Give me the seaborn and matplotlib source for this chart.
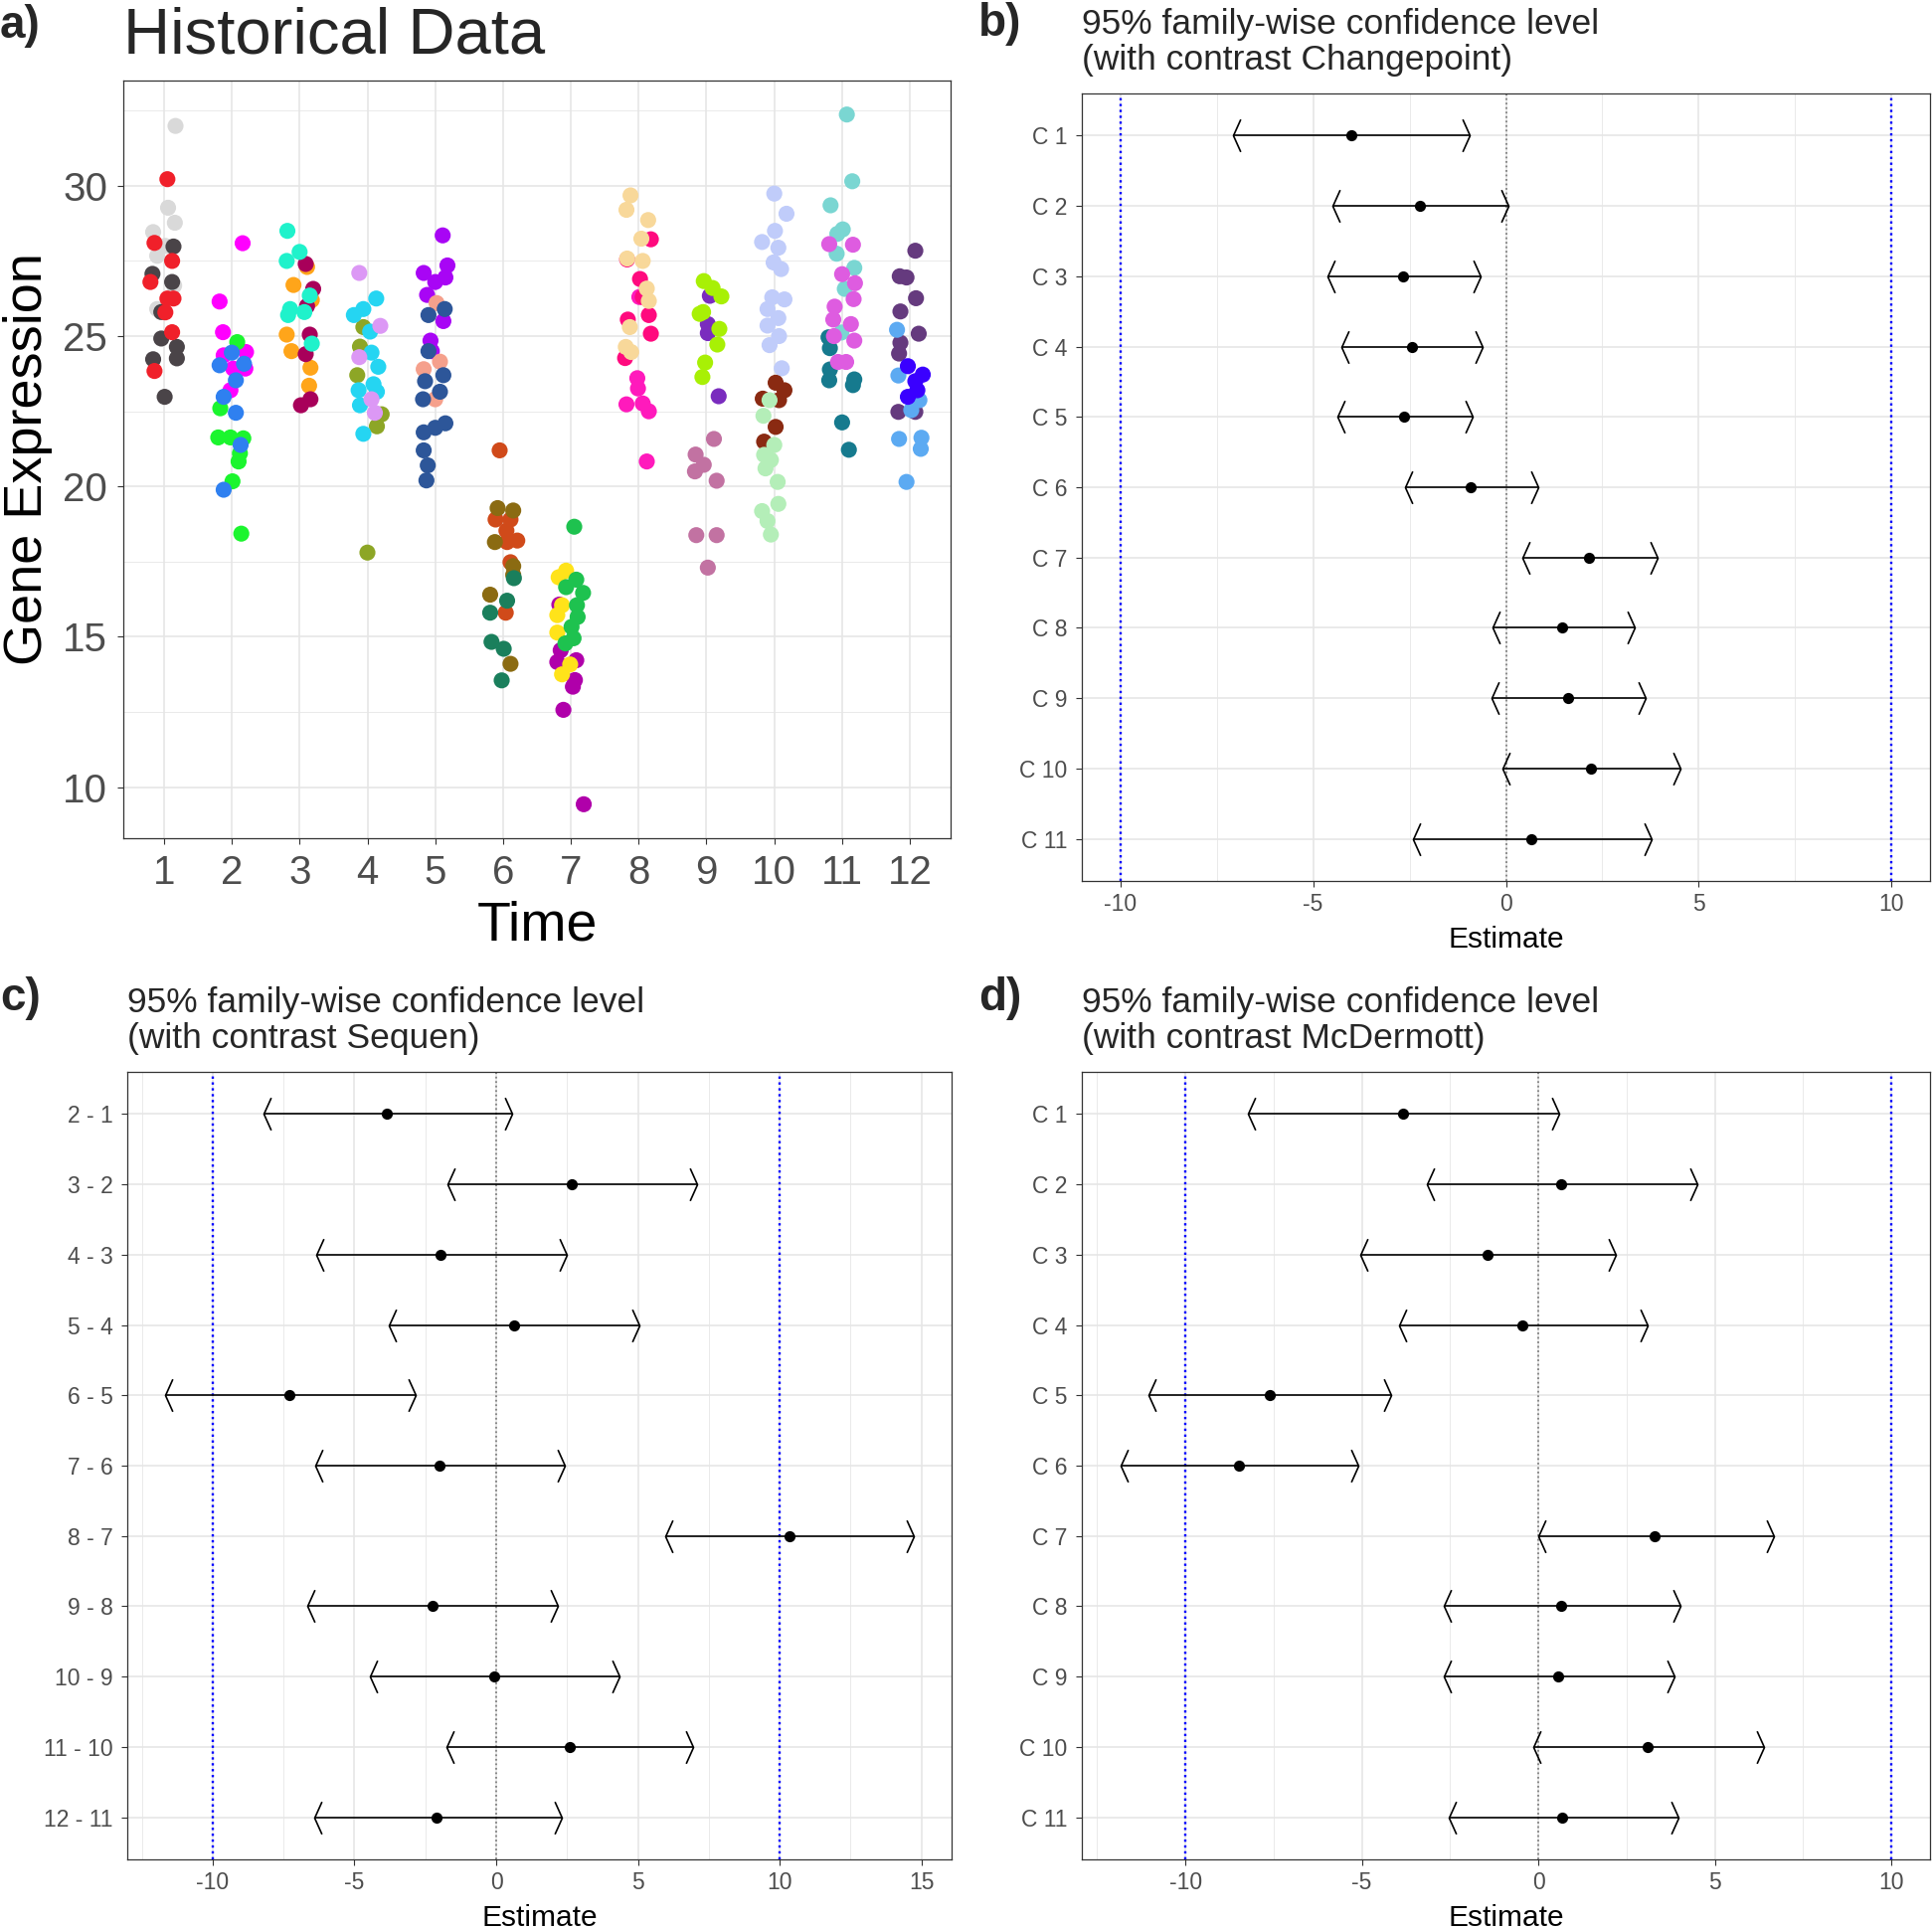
import numpy as np
import pandas as pd
import matplotlib
matplotlib.use('Agg')
import matplotlib.pyplot as plt
from matplotlib.path import Path
from matplotlib.ticker import MultipleLocator
import seaborn as sns

# ---------------- panel a: historical data ----------------
gene_time = [1, 1, 1,
             2, 2, 2,
             3, 3, 3,
             4, 4, 4,
             5, 5, 5,
             6, 6, 6,
             7, 7, 7,
             8, 8, 8,
             9, 9, 9,
             10, 10, 10,
             11, 11, 11,
             12, 12, 12]

gene_color = ['#D9D9D9', '#4A4448', '#F0202A',
              '#FF00FF', '#1BF52E', '#2F80F0',
              '#FFA51A', '#A8005A', '#1FF2CB',
              '#8DA626', '#25D5F2', '#DC98F5',
              '#A805F5', '#F5A08C', '#2D5699',
              '#D04A1A', '#8B6B12', '#1A7F5C',
              '#B000AA', '#FFE31A', '#1EC24F',
              '#FF1ABC', '#FF0A7E', '#F8D89A',
              '#7A2CBE', '#A8F005', '#C272A2',
              '#C0CCFA', '#8A2A12', '#B4EEB8',
              '#7AD6D2', '#167A8E', '#DE5CE0',
              '#653A7E', '#5CAAF2', '#3A00FF']

gene_dx = [
    [0.17, 0.06, 0.16, -0.16, -0.10, 0.15, -0.10, 0.02],
    [0.14, -0.17, 0.12, -0.04, -0.04, 0.19, 0.19, -0.16, 0.01],
    [0.05, -0.14, 0.12, -0.20, 0.14, 0.02, 0.12, -0.14, 0.05],
    [0.16, -0.18, -0.13, 0.21, -0.12, 0.20, -0.02, 0.02],
    [0.08, -0.17, -0.20, -0.02, 0.17, 0.12, 0.10, 0.01, 0.14],
    [0.00, -0.18, 0.18, 0.06, -0.12, 0.06, 0.13, -0.12],
    [-0.09, -0.19, -0.12, 0.16, 0.14, 0.11, 0.18],
    [0.09, 0.20, 0.11, 0.15, 0.09, 0.16, 0.02],
    [-0.18, 0.00, -0.19, 0.15, -0.14, -0.17, 0.07, 0.18],
    [-0.11, -0.15, 0.21, 0.14, 0.00, -0.06],
    [0.13, -0.20, -0.06, 0.04, 0.06, 0.16, 0.09, -0.13, -0.11, -0.06, 0.14],
    [-0.12, 0.19, -0.12, 0.06, 0.11],
    [0.11, 0.18, -0.17, 0.15, 0.00, -0.12, 0.12, -0.07, -0.05],
    [0.02, 0.07, -0.17, 0.00],
    [-0.10, 0.14, -0.10, 0.12, -0.15, 0.07, -0.18, 0.15, 0.00, -0.17, -0.17, -0.11, -0.13],
    [-0.05, -0.11, 0.11, 0.05, 0.21, 0.06, 0.11, 0.04],
    [-0.08, 0.15, -0.12, 0.15, 0.15, -0.19, 0.11],
    [0.16, 0.06, -0.19, -0.17, 0.01, -0.02],
    [-0.17, -0.15, -0.20, 0.08, 0.06, 0.03, -0.11, 0.19],
    [-0.07, -0.18, -0.13, -0.20, -0.20, -0.01, -0.13],
    [0.05, 0.08, -0.07, 0.18, 0.09, 0.10, 0.01, 0.04, -0.08],
    [-0.02, -0.01, -0.18, 0.06, 0.15, 0.12, 0.01],
    [0.18, 0.02, 0.06, 0.15, 0.18, -0.16, -0.20, -0.17],
    [-0.12, -0.18, 0.14, 0.04, -0.17, 0.06, 0.12, 0.15, -0.13, -0.19, -0.11],
    [0.05, 0.02, 0.02, 0.18],
    [-0.04, 0.09, 0.22, -0.10, -0.05, 0.19, 0.16, -0.02, -0.06],
    [0.11, -0.16, -0.04, -0.17, 0.15, -0.15, 0.15, 0.02],
    [0.00, 0.18, 0.01, -0.18, 0.06, -0.01, 0.10, -0.03, 0.15, -0.10, 0.06, -0.10, 0.07, -0.07, 0.11],
    [0.02, 0.15, -0.17, 0.07, 0.02, -0.15],
    [-0.07, -0.16, 0.00, -0.15, -0.05, -0.13, 0.05, 0.06, -0.18, -0.10, -0.05],
    [0.07, 0.15, -0.17, 0.01, -0.07, -0.08, 0.18, 0.04, -0.01],
    [-0.20, -0.18, -0.18, -0.19, 0.18, 0.16, 0.00, 0.10],
    [-0.19, 0.16, 0.00, 0.19, 0.17, -0.11, -0.13, 0.13, -0.12, 0.18, -0.06, 0.06],
    [0.08, -0.15, -0.05, 0.09, -0.14, 0.13, -0.14, -0.16, -0.17, 0.08],
    [-0.19, -0.17, 0.14, 0.02, -0.16, 0.17, 0.16, -0.05],
    [-0.03, 0.19, 0.08, 0.11, -0.03],
]

gene_y = [
    [31.99, 29.27, 28.77, 28.46, 27.67, 26.68, 25.90, 28.00],
    [27.98, 27.07, 26.80, 25.80, 24.92, 24.64, 24.26, 24.23, 22.98],
    [30.22, 28.10, 27.50, 26.80, 26.25, 25.79, 25.13, 23.84, 26.25],
    [28.09, 26.15, 25.13, 24.47, 24.36, 23.92, 23.20, 23.92],
    [24.80, 22.60, 21.63, 21.63, 21.60, 21.10, 20.83, 20.17, 18.43],
    [24.45, 24.03, 24.08, 23.53, 22.98, 22.45, 21.38, 19.89],
    [26.70, 25.05, 24.50, 23.95, 23.35, 27.30, 26.20],
    [27.40, 26.57, 26.00, 25.05, 24.40, 22.90, 22.70],
    [28.50, 27.80, 27.50, 26.35, 25.90, 25.70, 25.80, 24.75],
    [24.65, 23.70, 22.40, 22.00, 17.80, 25.30],
    [26.25, 25.70, 25.90, 25.15, 24.45, 23.98, 23.40, 23.20, 22.70, 21.75, 23.15],
    [27.10, 25.34, 24.30, 22.90, 22.45],
    [28.35, 27.35, 27.10, 26.95, 26.80, 26.37, 25.50, 24.85, 24.50],
    [26.10, 24.15, 23.90, 22.90],
    [25.70, 25.90, 24.50, 23.70, 23.50, 23.15, 22.90, 22.10, 21.95, 21.80, 21.20, 20.70, 20.20],
    [21.20, 18.90, 18.90, 18.53, 18.20, 18.15, 17.48, 15.80],
    [19.28, 19.20, 18.15, 17.35, 17.06, 16.40, 14.10],
    [16.95, 16.20, 15.80, 14.83, 14.60, 13.55],
    [16.07, 14.55, 14.16, 14.22, 13.56, 13.34, 12.57, 9.43],
    [17.20, 16.98, 16.05, 15.72, 15.14, 14.08, 13.75],
    [18.66, 16.90, 16.65, 16.46, 16.05, 15.66, 15.33, 14.95, 14.78],
    [23.60, 23.26, 22.73, 22.76, 22.50, 20.83, 26.30],
    [28.22, 26.90, 26.30, 25.70, 25.08, 25.55, 24.27, 27.55],
    [29.68, 29.20, 28.86, 28.24, 27.58, 27.50, 26.58, 26.17, 25.30, 24.64, 24.47],
    [26.34, 25.40, 25.10, 23.00],
    [26.83, 26.60, 26.32, 25.74, 25.80, 25.24, 24.72, 24.12, 23.64],
    [21.58, 21.06, 20.72, 20.50, 20.19, 18.38, 18.38, 17.30],
    [29.74, 29.07, 28.50, 28.13, 27.94, 27.45, 27.23, 26.29, 26.22, 25.90, 25.60, 25.35, 25.00, 24.70, 23.93],
    [23.45, 23.20, 22.92, 22.87, 21.98, 21.49],
    [22.87, 22.35, 21.38, 21.05, 20.88, 20.60, 20.15, 19.42, 19.18, 18.85, 18.40],
    [32.37, 30.15, 29.35, 28.55, 28.40, 27.74, 27.27, 26.57, 25.12],
    [24.96, 24.60, 23.89, 23.53, 23.56, 23.37, 22.13, 21.22],
    [28.06, 28.04, 27.06, 26.76, 26.23, 25.98, 25.55, 25.40, 25.00, 24.85, 24.14, 24.14],
    [27.84, 26.99, 26.95, 26.26, 25.82, 25.08, 24.78, 24.42, 22.48, 22.48],
    [25.21, 23.69, 22.87, 22.54, 21.58, 21.62, 21.25, 20.15],
    [24.00, 23.72, 23.50, 23.20, 22.98],
]

# ---------------- panels b-d: simultaneous confidence intervals ----------------
cp_labels = ['C 1', 'C 2', 'C 3', 'C 4', 'C 5', 'C 6', 'C 7', 'C 8', 'C 9', 'C 10', 'C 11']
cp_est = [-4.00, -2.24, -2.67, -2.45, -2.64, -0.91, 2.16, 1.47, 1.60, 2.21, 0.67]
cp_lwr = [-7.09, -4.50, -4.64, -4.27, -4.37, -2.62, 0.42, -0.34, -0.38, -0.08, -2.42]
cp_upr = [-0.93, 0.06, -0.67, -0.61, -0.86, 0.83, 3.94, 3.33, 3.62, 4.53, 3.78]

sq_labels = ['2 - 1', '3 - 2', '4 - 3', '5 - 4', '6 - 5', '7 - 6', '8 - 7',
             '9 - 8', '10 - 9', '11 - 10', '12 - 11']
sq_est = [-3.87, 2.65, -1.96, 0.62, -7.29, -2.00, 10.33, -2.26, -0.08, 2.59, -2.09]
sq_lwr = [-8.20, -1.73, -6.36, -3.80, -11.69, -6.38, 5.95, -6.66, -4.45, -1.74, -6.43]
sq_upr = [0.55, 7.10, 2.50, 5.06, -2.83, 2.42, 14.74, 2.17, 4.36, 6.96, 2.33]

md_labels = ['C 1', 'C 2', 'C 3', 'C 4', 'C 5', 'C 6', 'C 7', 'C 8', 'C 9', 'C 10', 'C 11']
md_est = [-3.83, 0.65, -1.43, -0.45, -7.62, -8.48, 3.30, 0.65, 0.56, 3.09, 0.68]
md_lwr = [-8.22, -3.16, -5.05, -3.95, -11.05, -11.84, 0.00, -2.67, -2.67, -0.14, -2.55]
md_upr = [0.59, 4.51, 2.20, 3.08, -4.16, -5.10, 6.66, 4.02, 3.85, 6.38, 3.97]

sns.set_theme(style='white')
plt.rcParams['font.family'] = ['Liberation Sans', 'DejaVu Sans']
plt.rcParams['axes.unicode_minus'] = False

GRID = '#E6E6E6'
BORDER = '#333333'
TICKTXT = '#4D4D4D'

W, H = 1943, 1939
fig = plt.figure(figsize=(W / 100, H / 100), dpi=100)


def box(x0, y0, x1, y1):
    # pixel box (top-left origin) -> figure fraction rect
    return [x0 / W, 1 - y1 / H, (x1 - x0) / W, (y1 - y0) / H]


def frame(ax):
    for s in ax.spines.values():
        s.set_color(BORDER)
        s.set_linewidth(0.9)
    ax.set_axisbelow(True)
    ax.grid(which='major', color=GRID, lw=1.2)
    ax.grid(which='minor', color=GRID, lw=0.6)
    ax.tick_params(which='major', direction='out', color=BORDER, width=0.8,
                   left=True, bottom=True)
    ax.tick_params(which='minor', length=0)


# ----- panel a -----
rows = []
for t, col, dxs, ys in zip(gene_time, gene_color, gene_dx, gene_y):
    for dx, y in zip(dxs, ys):
        rows.append({'time': t + dx, 'expr': y, 'gene': col})
hist = pd.DataFrame(rows)

ax_a = fig.add_axes(box(124, 81, 956, 843))
sns.scatterplot(data=hist, x='time', y='expr', hue='gene',
                palette={c: c for c in gene_color}, legend=False,
                s=135, linewidth=0, alpha=1, ax=ax_a)
ax_a.set_xlim(0.4, 12.6)
ax_a.set_ylim(8.3, 33.5)
ax_a.set_xticks(range(1, 13))
ax_a.set_yticks([10, 15, 20, 25, 30])
ax_a.yaxis.set_minor_locator(MultipleLocator(2.5))
frame(ax_a)
ax_a.grid(which='minor', axis='x', visible=False)
ax_a.tick_params(which='major', labelsize=29, labelcolor=TICKTXT, length=4.5)
ax_a.tick_params(axis='x', pad=7)
ax_a.tick_params(axis='y', pad=7)
ax_a.set_xlabel('Time', fontsize=40, color='black', labelpad=6)
ax_a.set_ylabel('Gene Expression', fontsize=39, color='black', labelpad=7)
ax_a.set_title('Historical Data', loc='left', fontsize=47, pad=20)

# ----- panels b-d -----
left_head = Path([(0.45, 1), (0, 0), (0.45, -1)],
                 [Path.MOVETO, Path.LINETO, Path.LINETO])
right_head = Path([(-0.45, 1), (0, 0), (-0.45, -1)],
                  [Path.MOVETO, Path.LINETO, Path.LINETO])


def ci_panel(ax, labels, est, lwr, upr, xticks, contrast):
    n = len(labels)
    ypos = np.arange(n)
    lwr = np.asarray(lwr)
    upr = np.asarray(upr)
    lo = min(lwr.min(), -10)
    hi = max(upr.max(), 10)
    pad = 0.05 * (hi - lo)

    ax.axvline(0, color='#808080', ls=(0, (1, 1.5)), lw=1.3, zorder=2)
    for v in (-10, 10):
        ax.axvline(v, color='blue', ls=(0, (1, 1.5)), lw=1.7, zorder=2)
    ax.hlines(ypos, lwr, upr, color='black', lw=1.2, zorder=3)
    ax.plot(lwr, ypos, ls='none', marker=left_head, ms=23.5,
            mfc='none', mec='black', mew=1.2, zorder=3)
    ax.plot(upr, ypos, ls='none', marker=right_head, ms=23.5,
            mfc='none', mec='black', mew=1.2, zorder=3)
    sns.scatterplot(x=est, y=ypos, color='black', s=65, linewidth=0,
                    ax=ax, zorder=4)

    ax.set_xlim(lo - pad, hi + pad)
    ax.set_ylim(n - 1 + 0.6, -0.6)
    ax.set_yticks(ypos)
    ax.set_yticklabels(labels)
    ax.set_xticks(xticks)
    ax.set_xticklabels([str(v) for v in xticks])
    ax.xaxis.set_minor_locator(MultipleLocator(2.5))
    frame(ax)
    ax.tick_params(which='major', labelsize=16.5, labelcolor=TICKTXT, length=4.5)
    ax.tick_params(axis='x', pad=4)
    ax.tick_params(axis='y', pad=6)
    ax.set_xlabel('Estimate', fontsize=21.5, color='black', labelpad=7)
    ax.set_ylabel('')
    ax.set_title('95% family-wise confidence level\n(with contrast ' + contrast + ')',
                 loc='left', fontsize=25.5, pad=17, linespacing=1.12)


ax_b = fig.add_axes(box(1088, 94, 1941, 886))
ci_panel(ax_b, cp_labels, cp_est, cp_lwr, cp_upr, [-10, -5, 0, 5, 10], 'Changepoint')

ax_c = fig.add_axes(box(128, 1078, 957, 1870))
ci_panel(ax_c, sq_labels, sq_est, sq_lwr, sq_upr, [-10, -5, 0, 5, 10, 15], 'Sequen')

ax_d = fig.add_axes(box(1088, 1078, 1941, 1870))
ci_panel(ax_d, md_labels, md_est, md_lwr, md_upr, [-10, -5, 0, 5, 10], 'McDermott')

# panel tags
for tag, px, py in [('a)', 0, 4), ('b)', 984, 2), ('c)', 0, 982), ('d)', 984, 982)]:
    fig.text(px / W, 1 - py / H, tag, fontsize=33, fontweight='bold',
             ha='left', va='top')

fig.savefig('out.png', dpi=100)
